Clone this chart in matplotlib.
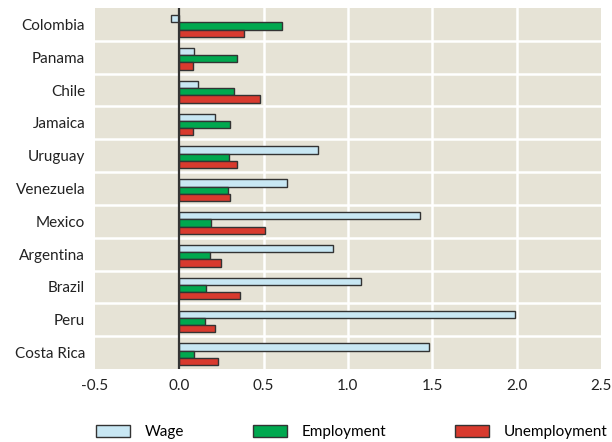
import numpy as np
import matplotlib.pyplot as plt

# data, top to bottom
countries = ['Colombia', 'Panama', 'Chile', 'Jamaica', 'Uruguay', 'Venezuela',
             'Mexico', 'Argentina', 'Brazil', 'Peru', 'Costa Rica']
wage = [-0.05, 0.09, 0.11, 0.21, 0.82, 0.64, 1.43, 0.91, 1.08, 1.99, 1.48]
employment = [0.61, 0.34, 0.325, 0.30, 0.295, 0.29, 0.19, 0.18, 0.16, 0.15, 0.09]
unemployment = [0.385, 0.08, 0.48, 0.08, 0.34, 0.30, 0.51, 0.25, 0.36, 0.21, 0.23]
xticks = [-0.5, 0.0, 0.5, 1.0, 1.5, 2.0, 2.5]

plt.rcParams['font.family'] = ['Lato', 'DejaVu Sans']

fig = plt.figure(figsize=(6.12, 4.42), dpi=100)
ax = fig.add_axes([0.155, 0.165, 0.827, 0.817])
ax.set_facecolor('#e6e3d6')

n = len(countries)
y = np.arange(n)[::-1].astype(float) - 0.05
h = 0.22
edge = '#333333'

ax.barh(y + h, wage, height=h, color='#c8e7f3', edgecolor=edge, linewidth=1, label='Wage', zorder=3)
ax.barh(y, employment, height=h, color='#00a84f', edgecolor=edge, linewidth=1, label='Employment', zorder=3)
ax.barh(y - h, unemployment, height=h, color='#d83a2e', edgecolor=edge, linewidth=1, label='Unemployment', zorder=3)

# white grid
for b in np.arange(n - 1) + 0.5:
    ax.axhline(b, color='white', lw=1.8, zorder=1)
for g in [0.5, 1.0, 1.5, 2.0]:
    ax.axvline(g, color='white', lw=1.8, zorder=1)
ax.axvline(0, color='#333333', lw=1.6, zorder=4)

ax.set_xlim(-0.5, 2.5)
ax.set_ylim(-0.5, n - 0.5)
ax.set_xticks(xticks)
ax.set_xticklabels(['%.1f' % t for t in xticks], fontsize=11, color='#222222')
ax.set_yticks(np.arange(n)[::-1])
ax.set_yticklabels(countries, fontsize=11, color='#222222')
ax.tick_params(length=0, pad=7)
for s in ax.spines.values():
    s.set_visible(False)

fig.legend(loc='lower center', bbox_to_anchor=(0.575, -0.025), ncol=3, frameon=False,
           fontsize=11, handlelength=2.2, handleheight=0.9, columnspacing=4.5,
           handletextpad=1.0)

plt.savefig('out.png', dpi=100)
